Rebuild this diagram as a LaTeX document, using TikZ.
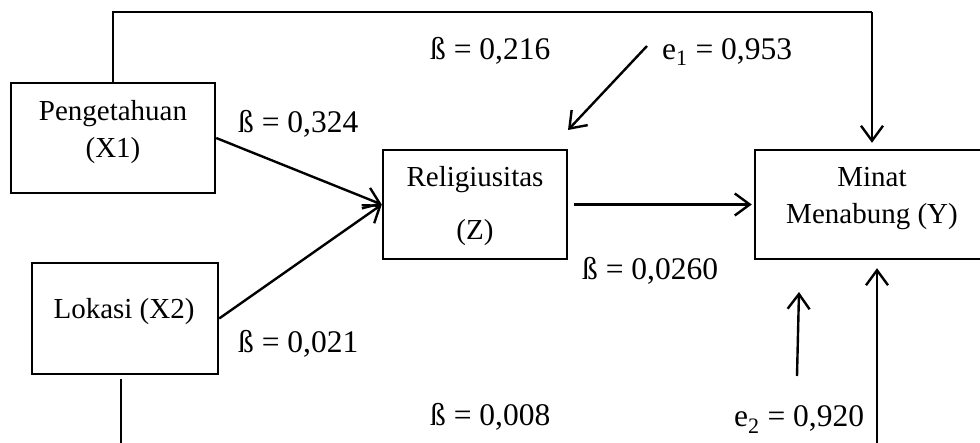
\documentclass[tikz,border=0pt]{standalone}
\usepackage{fontspec}
\setmainfont{Liberation Serif}
\usetikzlibrary{arrows.meta}
\begin{document}
\begin{tikzpicture}[x=1pt,y=-1pt,
  box/.style={draw,line width=2.4pt,inner sep=0pt},
  boxtext/.style={font=\fontsize{29}{35}\selectfont,anchor=base,inner sep=0pt},
  lab/.style={font=\fontsize{31.5}{38}\selectfont,anchor=base west,inner sep=0pt},
  tip/.style={-{Straight Barb[length=15pt,width=22pt,line width=2.4pt]}},
  arr/.style={line width=2.4pt,tip},
  route/.style={line width=1.4pt}]
\clip (0,0) rectangle (980,443);
% boxes
\node[box,minimum width=204pt,minimum height=110pt] (x1) at (113,138) {};
\node[box,minimum width=184pt,minimum height=109pt] (z) at (475,204.5) {};
\node[box,minimum width=234pt,minimum height=109pt] (y) at (872,204.5) {};
\node[box,minimum width=186pt,minimum height=111pt] (x2) at (125,318.5) {};
% box texts
\node[boxtext] (x1a) at (113,121) {Pengetahuan};
\node[boxtext] (x1b) at (113,158) {(X1)};
\node[boxtext] (za) at (475,187) {Religiusitas};
\node[boxtext] (zb) at (475,240) {(Z)};
\node[boxtext] (ya) at (872,187) {Minat};
\node[boxtext] (yb) at (872,224) {Menabung (Y)};
\node[boxtext] (x2a) at (124,319) {Lokasi (X2)};
% labels
\node[lab] (b1) at (238,133) {ß = 0,324};
\node[lab] (b2) at (430,60) {ß = 0,216};
\node[lab] (e1) at (662,60) {e\textsubscript{1} = 0,953};
\node[lab] (b3) at (582,280) {ß = 0,0260};
\node[lab] (b4) at (238,353) {ß = 0,021};
\node[lab] (b5) at (430,425) {ß = 0,008};
\node[lab] (e2) at (734,427) {e\textsubscript{2} = 0,920};
% free-end coordinates
\coordinate (e1s) at (647,46);
\coordinate (e1t) at (568,130);
\coordinate (e2s) at (797,376);
\coordinate (e2t) at (799,292);
\coordinate (tl) at (113,12);
\coordinate (tr) at (872,12);
\coordinate (bl) at (121,460);
\coordinate (br) at (877,460);
% connectors
\draw[arr] (x1.east) -- (z.west);
\draw[arr] (x2.east) -- (z.west);
\draw[arr,shorten <=6pt,shorten >=2pt] (z.east) -- (y.west);
\draw[arr] (e1s) -- (e1t);
\draw[arr] (e2s) -- (e2t);
\draw[route] (x1.north) -- (tl) -- (tr);
\draw[route,tip,shorten >=6pt] (tr) -- (y.north);
\draw[route,shorten <=4pt] ([xshift=-4pt]x2.south) -- (bl) -- (br);
\draw[arr,shorten >=8pt] (br) -- ([xshift=5pt]y.south);
\end{tikzpicture}
\end{document}
